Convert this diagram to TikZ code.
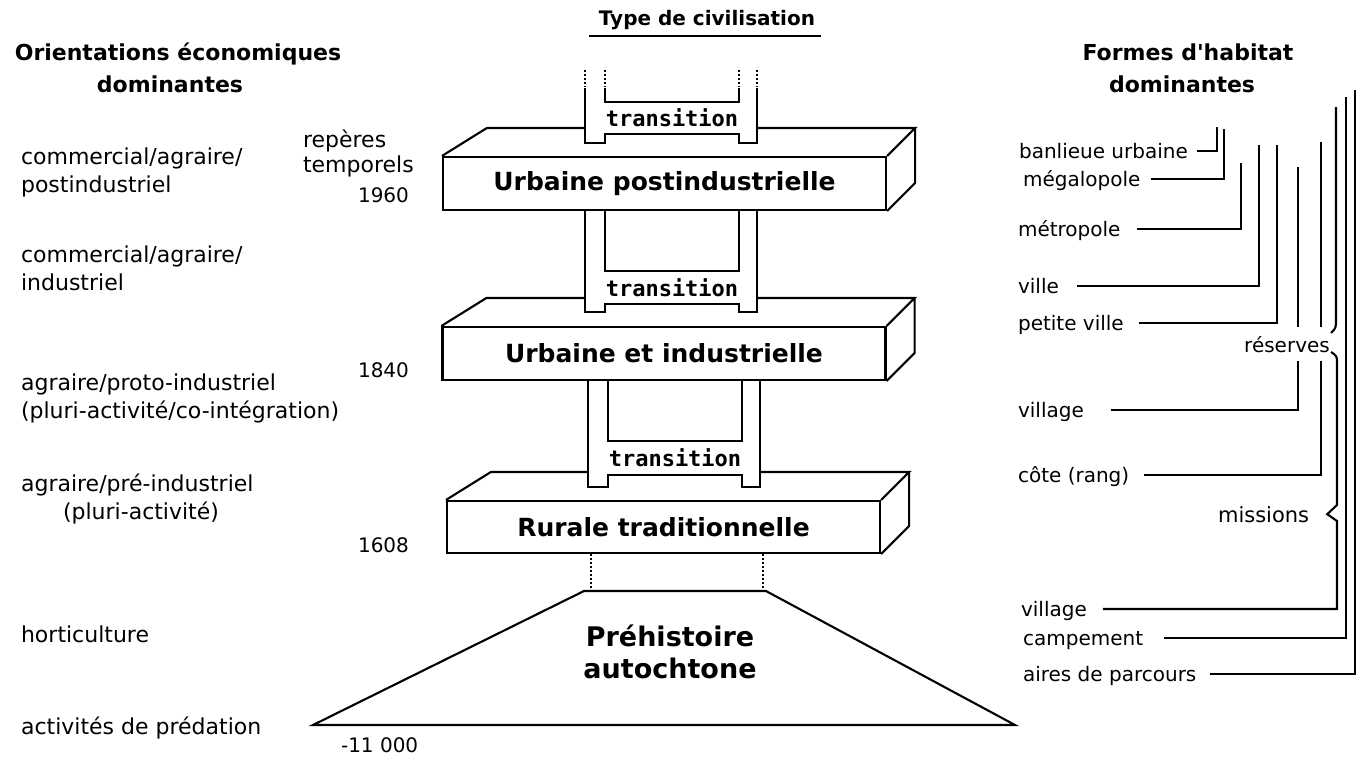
\documentclass[tikz,border=0pt]{standalone}
\usepackage{fontspec}
\setmainfont{DejaVu Sans}
\newfontfamily\transfont{DejaVu Sans Mono}
\usetikzlibrary{positioning}

\begin{document}
\begin{tikzpicture}[x=1pt,y=-1pt,line width=2.1pt]
    \tikzset{block/.style= {draw, rectangle, align=center, minimum width=443pt, minimum height=53pt, inner sep=0pt, font=\fontsize{25}{30}\selectfont\bfseries},
             head/.style= {inner sep=0pt, anchor=base, font=\fontsize{22}{26}\selectfont\bfseries},
             orient/.style= {inner sep=0pt, anchor=base west, font=\fontsize{22}{25}\selectfont},
             habitat/.style= {inner sep=0pt, anchor=base west, font=\fontsize{20}{24}\selectfont},
             year/.style= {inner sep=0pt, anchor=base east, font=\fontsize{20}{22}\selectfont},
             trans/.style= {inner sep=0pt, font=\fontsize{22}{26}\transfont\bfseries},
             pointille/.style= {line width=1.4pt, dash pattern=on 1.5pt off 2.5pt},
             }
    \useasboundingbox (0,0) rectangle (1359,758);

    % titres
    \node [head, font=\fontsize{20}{24}\selectfont\bfseries] (type) at (707,25) {Type de civilisation};
    \draw ([shift={(-9,11)}]type.base west) -- ([shift={(5,11)}]type.base east);
    \node [head] (orient1) at (178,60) {Orientations économiques};
    \node [head] (orient2) at (170,92) {dominantes};
    \node [head] (forme1) at (1188,60) {Formes d\textquotesingle habitat};
    \node [head] (forme2) at (1182,92) {dominantes};

    % orientations economiques
    \node [orient] (ca1) at (20,164) {commercial/agraire/};
    \node [orient] (pi) at (20,192) {postindustriel};
    \node [orient] (ca2) at (20,262) {commercial/agraire/};
    \node [orient] (ind) at (20,290) {industriel};
    \node [orient] (api) at (20,390) {agraire/proto-industriel};
    \node [orient] (pci) at (20,418) {(pluri-activité/co-intégration)};
    \node [orient] (apr) at (20,491) {agraire/pré-industriel};
    \node [orient] (pa) at (62,519) {(pluri-activité)};
    \node [orient] (hor) at (20,642) {horticulture};
    \node [orient] (pred) at (20,734) {activités de prédation};

    % reperes temporels
    \node [orient] (rep) at (302,147) {repères};
    \node [orient] (tmp) at (302,172) {temporels};
    \node [year] (y1960) at (410,202) {1960};
    \node [year] (y1840) at (410,377) {1840};
    \node [year] (y1608) at (410,552) {1608};
    \node [year, anchor=base west] (y11000) at (340,752) {-11 000};

    % types de civilisation
    \node [block] (upi) at (664.5,183.5) {Urbaine postindustrielle};
    \node [block] (uei) at (664,353.5) {Urbaine et industrielle};
    \node [block, minimum width=433pt, minimum height=52pt] (rt) at (663.5,527) {Rurale traditionnelle};
    \foreach \bx in {upi,uei,rt}
        \draw (\bx.north west) -- ++(45,-28) -- ([shift={(28,-28)}]\bx.north east) -- (\bx.north east)
              ([shift={(28,-28)}]\bx.north east) -- ([shift={(28,-28)}]\bx.south east) -- (\bx.south east);

    \foreach \k/\ytop/\yin/\yband/\yfoot/\dx in {1/88/102/134/143/0, 2/210/271/304/312/0, 3/381/441/475/487/3} {
        \fill [white] (585+\dx,\ytop+1) rectangle (757+\dx,\yfoot);
        \draw (585+\dx,\ytop) -- (585+\dx,\yfoot) -- (605+\dx,\yfoot) -- (605+\dx,\yband) -- (739+\dx,\yband)
              -- (739+\dx,\yfoot) -- (757+\dx,\yfoot) -- (757+\dx,\ytop);
        \draw (605+\dx,\ytop) -- (605+\dx,\yin) -- (739+\dx,\yin) -- (739+\dx,\ytop);
        \node [trans] (tr\k) at (672+\dx,{(\yin+\yband)/2}) {transition};
    }
    \foreach \xx in {585,605,739,757}
        \draw [pointille] (\xx,70) -- (\xx,87);

    \node [inner sep=0pt, align=center, font=\fontsize{27}{32}\selectfont\bfseries] (pre) at (670,652) {Préhistoire\\autochtone};
    \draw (313,725) -- (584,591) -- (766,591) -- (1015,725) -- cycle;
    \draw [pointille] (rt.south -| 591,0) -- (591,591);
    \draw [pointille] (rt.south -| 763,0) -- (763,591);

    % formes d'habitat
    \node [habitat] (ban) at (1018,158) {banlieue urbaine};
    \node [habitat] (meg) at (1022,186) {mégalopole};
    \node [habitat] (met) at (1017,236) {métropole};
    \node [habitat] (vil) at (1017,293) {ville};
    \node [habitat] (pvil) at (1017,330) {petite ville};
    \node [habitat] (vilg) at (1017,417) {village};
    \node [habitat] (cote) at (1017,482) {côte (rang)};
    \node [habitat, font=\fontsize{21}{24}\selectfont] (mis) at (1217,522) {missions};
    \node [habitat] (vilm) at (1020,616) {village};
    \node [habitat] (camp) at (1022,645) {campement};
    \node [habitat] (aire) at (1022,681) {aires de parcours};

    \coordinate (ban-top) at (1217,127);
    \coordinate (meg-top) at (1224,129);
    \coordinate (met-top) at (1241,163);
    \coordinate (vil-top) at (1259,145);
    \coordinate (pvil-top) at (1277,145);
    \coordinate (vilg-top) at (1298,167);
    \coordinate (cote-top) at (1321,142);
    \coordinate (vilm-top) at (1336,107);
    \coordinate (camp-top) at (1346,97);
    \coordinate (aire-top) at (1355,90);

    \foreach \nm/\gap in {ban/8, meg/10, met/15, vil/17, pvil/14, vilg/26, cote/14, camp/20, aire/13}
        \draw ([shift={(\gap,-7)}]\nm.base east) -| (\nm-top);

    \node [habitat, anchor=base, fill=white, inner xsep=1pt, inner ysep=9pt] (res) at (1287,352) {réserves};

    \draw ([shift={(15,-7)}]vilm.base east) -| (1337,521) -- ([xshift=17pt]mis.east) -- (1337,505)
          -- (1337,364) .. controls (1337,356) .. (1331,352);
    \draw (1331,333) .. controls (1336,328) .. (1336,318) -- (vilm-top);
\end{tikzpicture}
\end{document}
